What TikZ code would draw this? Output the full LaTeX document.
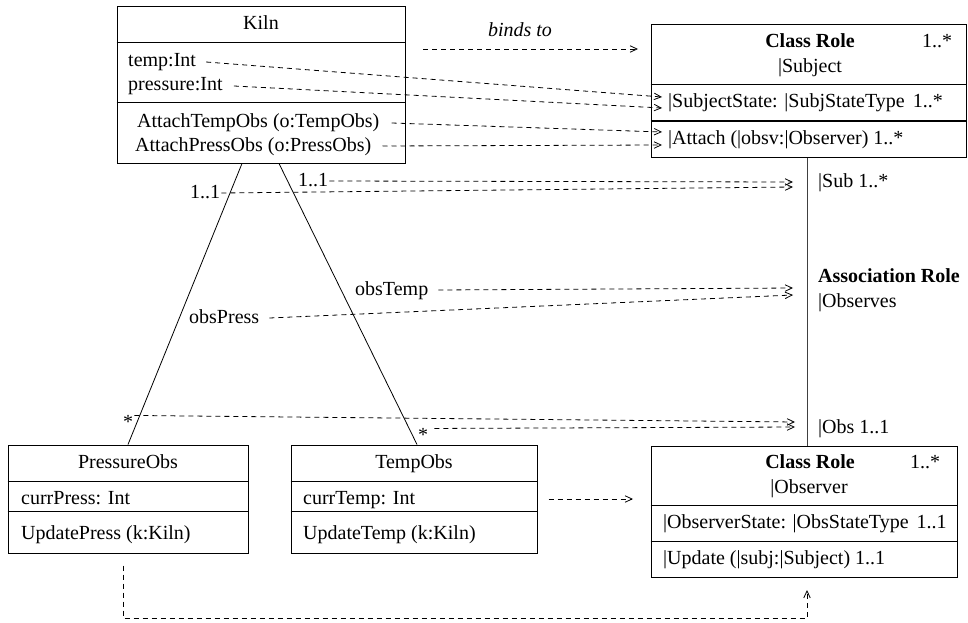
\documentclass[tikz,border=0pt]{standalone}
\usepackage{fontspec}
\setmainfont{Liberation Serif}
\usetikzlibrary{arrows.meta,calc}
\begin{document}
\begin{tikzpicture}[x=1pt,y=-1pt,
  font=\fontsize{20}{24}\selectfont,
  txt/.style={inner sep=0pt, text height=14pt, text depth=6pt},
  lt/.style={txt, anchor=west},
  ct/.style={txt, anchor=center},
  umlbox/.style={draw, line width=1pt, inner sep=0pt},
  divider/.style={line width=1pt},
  assoc/.style={line width=0.8pt},
  dep/.style={line width=0.8pt, dash pattern=on 5pt off 4pt,
    -{Straight Barb[length=7pt,width=6.5pt,line width=0.8pt]}},
]
\useasboundingbox (0,0) rectangle (968,623);

% ---------- Kiln ----------
\node[umlbox, minimum width=288pt, minimum height=156pt] (kiln) at (261,85) {};
\draw[divider] (kiln.west |- 0,43) -- (kiln.east |- 0,43);
\draw[divider] (kiln.west |- 0,103) -- (kiln.east |- 0,103);
\node[ct] (kilnT) at (261,26) {Kiln};
\node[lt] (temp) at (128,63) {temp:Int};
\node[lt] (press) at (128,87) {pressure:Int};
\node[lt] (attT) at (137,124) {AttachTempObs (o:TempObs)};
\node[lt] (attP) at (135,147) {AttachPressObs (o:PressObs)};

% ---------- Class Role |Subject ----------
\node[umlbox, minimum width=315pt, minimum height=132pt] (subj) at (808.5,91) {};
\draw[divider] (subj.west |- 0,85) -- (subj.east |- 0,85);
\draw[divider] (subj.west |- 0,121) -- (subj.east |- 0,121);
\node[ct] (subjT) at (810,44) {\textbf{Class Role}};
\node[lt] (subjM) at (922,44) {1..*};
\node[ct] (subjN) at (810,69) {|Subject};
\node[lt] (subjA) at (668,104) {|SubjectState: |SubjStateType\hspace{8pt}1..*};
\node[lt] (subjO) at (668,140) {|Attach (|obsv:|Observer) 1..*};

% ---------- Class Role |Observer ----------
\node[umlbox, minimum width=306pt, minimum height=131pt] (obs) at (804,511.5) {};
\draw[divider] (obs.west |- 0,505) -- (obs.east |- 0,505);
\draw[divider] (obs.west |- 0,541) -- (obs.east |- 0,541);
\node[ct] (obsT) at (810,464) {\textbf{Class Role}};
\node[lt] (obsM) at (910,464) {1..*};
\node[ct] (obsN) at (809,489) {|Observer};
\node[lt] (obsA) at (663,524) {|ObserverState: |ObsStateType\hspace{8pt}1..1};
\node[lt] (obsO) at (663,560) {|Update (|subj:|Subject) 1..1};

% ---------- PressureObs ----------
\node[umlbox, minimum width=240pt, minimum height=108pt] (pobs) at (128,499) {};
\draw[divider] (pobs.west |- 0,481) -- (pobs.east |- 0,481);
\draw[divider] (pobs.west |- 0,511) -- (pobs.east |- 0,511);
\node[ct] (pobsT) at (128,464) {PressureObs};
\node[lt] (pobsA) at (21,500) {currPress: Int};
\node[lt] (pobsO) at (21,535) {UpdatePress (k:Kiln)};

% ---------- TempObs ----------
\node[umlbox, minimum width=246pt, minimum height=108pt] (tobs) at (414,499) {};
\draw[divider] (tobs.west |- 0,481) -- (tobs.east |- 0,481);
\draw[divider] (tobs.west |- 0,511) -- (tobs.east |- 0,511);
\node[ct] (tobsT) at (414,464) {TempObs};
\node[lt] (tobsA) at (303,500) {currTemp: Int};
\node[lt] (tobsO) at (303,535) {UpdateTemp (k:Kiln)};

% ---------- associations ----------
\draw[assoc] (kiln.south -| 242,0) -- (pobs.north -| 128,0);
\draw[assoc] (kiln.south -| 279,0) -- (tobs.north -| 417,0);
\draw[assoc, black!75] (subj.south -| 807,0) -- (obs.north -| 807,0);

% ---------- role labels ----------
\node[lt] (m1) at (190,194) {1..1};
\node[lt] (m2) at (298,182) {1..1};
\node[anchor=base west, inner sep=0pt] (s1) at (123,428) {*};
\node[anchor=base west, inner sep=0pt] (s2) at (418,441) {*};
\node[lt] (otemp) at (355,291) {obsTemp};
\node[lt] (opress) at (189,319) {obsPress};
\node[ct, font=\fontsize{20}{24}\itshape] (binds) at (520,33) {binds to};

\node[lt] (subR) at (818,183) {|Sub 1..*};
\node[lt] (assocR) at (818,278) {\textbf{Association Role}};
\node[lt] (assocN) at (818,303) {|Observes};
\node[lt] (obsR) at (818,429) {|Obs 1..1};

% ---------- arrow end points ----------
\coordinate (bindS) at (423,49);
\coordinate (bindE) at (638,49);
\coordinate (eTemp) at (662,97);
\coordinate (ePress) at (662,108);
\coordinate (eAttT) at (662,132);
\coordinate (eAttP) at (662,145);
\coordinate (eSub1) at (793,182);
\coordinate (eSub2) at (793,187);
\coordinate (eAs1) at (793,288);
\coordinate (eAs2) at (793,295);
\coordinate (eObs1) at (795,422);
\coordinate (eObs2) at (795,427);
\coordinate (eTObs) at (633,499);
\coordinate (bl) at (123,618);
\coordinate (br) at (807,618);
\coordinate (eUpd) at (807,590);

% ---------- binding arrows ----------
\draw[dep] (bindS) -- (bindE);
\draw[dep] ([xshift=10pt,yshift=1pt]temp.east) -- (eTemp);
\draw[dep] ([xshift=11pt,yshift=1pt]press.east) -- (ePress);
\draw[dep] ([xshift=12pt,yshift=1pt]attT.east) -- (eAttT);
\draw[dep] ([xshift=11pt,yshift=1pt]attP.east) -- (eAttP);
\draw[dep] ([xshift=1pt,yshift=1pt]m2.east) -- (eSub1);
\draw[dep] ([xshift=1pt,yshift=1pt]m1.east) -- (eSub2);
\draw[dep] ([xshift=10pt,yshift=1pt]otemp.east) -- (eAs1);
\draw[dep] ([xshift=10pt,yshift=1pt]opress.east) -- (eAs2);
\draw[dep] ([xshift=1pt,yshift=6pt]s1.east) -- (eObs1);
\draw[dep] ([xshift=6pt,yshift=6pt]s2.east) -- (eObs2);
\draw[dep] ([xshift=11pt]tobs.east |- 0,499) -- (eTObs);
\draw[dep] ([yshift=-12pt]pobs.south -| 123,0) -- (bl) -- (br) -- (eUpd);
\end{tikzpicture}
\end{document}
